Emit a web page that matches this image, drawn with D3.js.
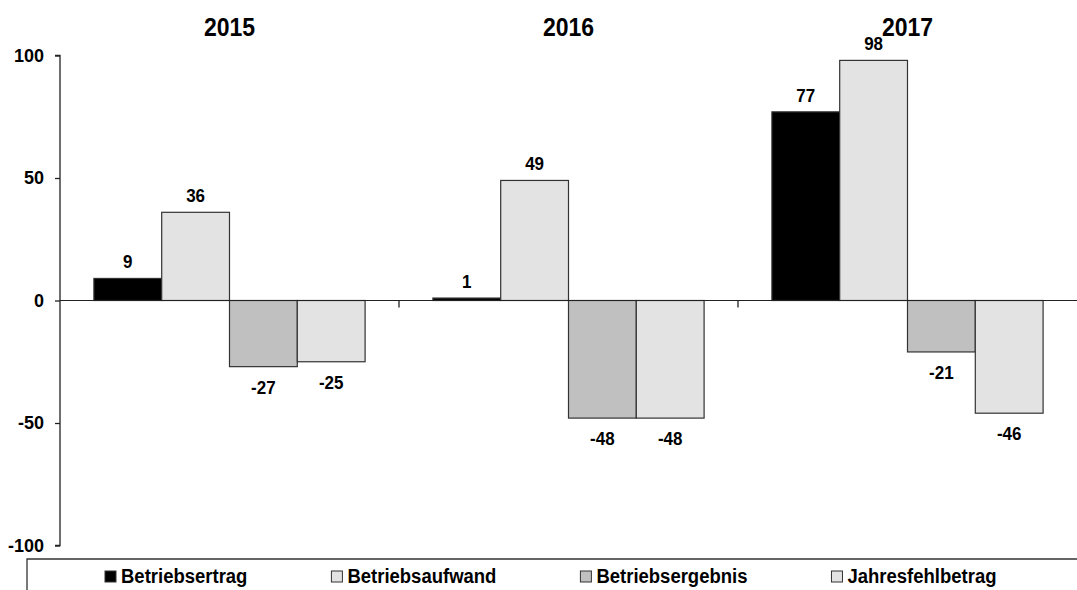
<!DOCTYPE html>
<html><head><meta charset="utf-8">
<script src="https://cdn.jsdelivr.net/npm/d3@7"></script>
<style>
html,body{margin:0;padding:0;background:#fff;}
svg{display:block;font-family:"Liberation Sans",Arial,sans-serif;font-weight:bold;}
</style></head>
<body>
<svg id="chart" width="1077" height="590"></svg>
<script>
const years = ["2015", "2016", "2017"];
const seriesNames = ["Betriebsertrag", "Betriebsaufwand", "Betriebsergebnis", "Jahresfehlbetrag"];
const betriebsertrag = [9, 1, 77];
const betriebsaufwand = [36, 49, 98];
const betriebsergebnis = [-27, -48, -21];
const jahresfehlbetrag = [-25, -48, -46];
const yTicks = [-100, -50, 0, 50, 100];
const seriesColors = ["#000000", "#e3e3e3", "#c0c0c0", "#e3e3e3"];

const seriesValues = [betriebsertrag, betriebsaufwand, betriebsergebnis, jahresfehlbetrag];
const W = 1077, H = 590;
const svg = d3.select("#chart");
const SY = 1.1; // slight vertical stretch seen in the reference text

const x0 = d3.scaleBand().domain(years).range([60, 1077]).paddingInner(0).paddingOuter(0);
const x1 = d3.scaleBand().domain(seriesNames).range([0, x0.bandwidth()]).paddingInner(0).paddingOuter(0.5);
const y = d3.scaleLinear().domain([-100, 100]).range([545.5, 55.5]);

// y axis
const yAxis = d3.axisLeft(y).tickValues(yTicks).tickSize(5).tickPadding(11).tickFormat(d => String(d));
const gy = svg.append("g").attr("transform", "translate(60,0)").call(yAxis);
gy.select(".domain").attr("stroke", "#222").attr("stroke-width", 1.3).attr("d", `M-5,${y(100)}H0V${y(-100)}H-5`);
gy.selectAll(".tick line").attr("stroke", "#222").attr("stroke-width", 1.3);
gy.selectAll(".tick text").attr("fill", "#000").style("font-size", "18px").style("font-weight", "bold")
  .style("font-family", '"Liberation Sans",Arial,sans-serif');

const rows = [];
years.forEach((yr, i) => seriesNames.forEach((s, j) => rows.push({yr, s, j, v: seriesValues[j][i]})));

svg.append("g").selectAll("rect").data(rows).join("rect")
  .attr("x", d => x0(d.yr) + x1(d.s))
  .attr("width", x1.bandwidth())
  .attr("y", d => y(Math.max(0, d.v)))
  .attr("height", d => Math.abs(y(d.v) - y(0)))
  .attr("fill", d => seriesColors[d.j])
  .attr("stroke", "#333").attr("stroke-width", 1.2);

// x axis at zero
const xAxis = d3.axisBottom(x0).tickSize(0).tickFormat("");
const gx = svg.append("g").attr("transform", `translate(0,${y(0)})`).call(xAxis);
gx.select(".domain").attr("stroke", "#222").attr("stroke-width", 1.2).attr("d", `M60,0H${W}`);
svg.append("g").selectAll("line").data(years.slice(1)).join("line")
  .attr("x1", d => x0(d)).attr("x2", d => x0(d))
  .attr("y1", y(0)).attr("y2", y(0) + 7)
  .attr("stroke", "#222").attr("stroke-width", 1.3);

// value labels
svg.append("g").selectAll("text").data(rows).join("text")
  .attr("transform", d => `translate(${x0(d.yr) + x1(d.s) + x1.bandwidth() / 2},${d.v >= 0 ? y(d.v) - 10 : y(d.v) + 27}) scale(1,${SY})`)
  .attr("text-anchor", "middle")
  .style("font-size", "17px")
  .text(d => d.v);

// year titles
svg.append("g").selectAll("text").data(years).join("text")
  .attr("transform", d => `translate(${x0(d) + x0.bandwidth() / 2},36) scale(1,${SY})`)
  .attr("text-anchor", "middle")
  .style("font-size", "23px")
  .text(d => d);

// legend box
svg.append("path").attr("d", `M27,${H}V559H${W}`).attr("fill", "none").attr("stroke", "#333").attr("stroke-width", 1.3);

const lg = svg.append("g");
let cx = 105;
seriesNames.forEach((s, j) => {
  lg.append("rect").attr("x", cx).attr("y", 571).attr("width", 11).attr("height", 11)
    .attr("fill", seriesColors[j]).attr("stroke", "#333").attr("stroke-width", 1);
  const t = lg.append("text").attr("transform", `translate(${cx + 16},583) scale(1,${SY})`)
    .style("font-size", "18.5px").text(s);
  cx = cx + 16 + t.node().getComputedTextLength() + 84;
});
</script>
</body></html>
